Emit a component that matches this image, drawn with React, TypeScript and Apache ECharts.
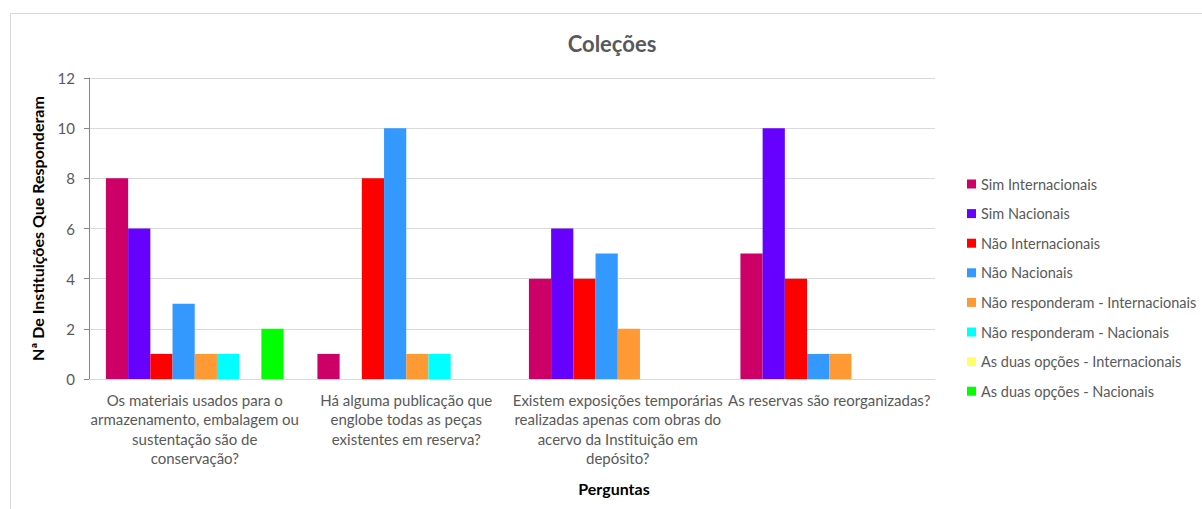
import React, { useEffect, useRef } from "react";
import * as echarts from "echarts";

const categories = [
  "Os materiais usados para o\narmazenamento, embalagem ou\nsustentação são de\nconservação?",
  "Há alguma publicação que\nenglobe todas as peças\nexistentes em reserva?",
  "Existem exposições temporárias\nrealizadas apenas com obras do\nacervo da Instituição em\ndepósito?",
  "As reservas são reorganizadas?",
];

const seriesNames = [
  "Sim Internacionais",
  "Sim Nacionais",
  "Não Internacionais",
  "Não Nacionais",
  "Não responderam - Internacionais",
  "Não responderam - Nacionais",
  "As duas opções - Internacionais",
  "As duas opções - Nacionais",
];

const seriesColors = [
  "#CC0066",
  "#6600FF",
  "#FF0000",
  "#3399FF",
  "#FF9933",
  "#00FFFF",
  "#FFFF66",
  "#00FF00",
];

const simInternacionais = [8, 1, 4, 5];
const simNacionais = [6, 0, 6, 10];
const naoInternacionais = [1, 8, 4, 4];
const naoNacionais = [3, 10, 5, 1];
const nrInternacionais = [1, 1, 2, 1];
const nrNacionais = [1, 1, 0, 0];
const duasInternacionais = [0, 0, 0, 0];
const duasNacionais = [2, 0, 0, 0];

const seriesValues = [
  simInternacionais,
  simNacionais,
  naoInternacionais,
  naoNacionais,
  nrInternacionais,
  nrNacionais,
  duasInternacionais,
  duasNacionais,
];

const yTicks = { min: 0, max: 12, interval: 2 };

const FONT = "Lato, 'Open Sans', sans-serif";

export default function App() {
  const ref = useRef<HTMLDivElement>(null);

  useEffect(() => {
    if (!ref.current) return;
    const chart = echarts.init(ref.current, null, { renderer: "svg" });
    chart.setOption({
      animation: false,
      backgroundColor: "#ffffff",
      textStyle: { fontFamily: FONT },
      graphic: [
        {
          type: "rect",
          shape: { x: 10.5, y: 13.5, width: 1300, height: 600 },
          style: { fill: "none", stroke: "#d9d9d9", lineWidth: 1 },
          silent: true,
        },
        {
          type: "text",
          x: 612,
          y: 43,
          style: {
            text: "Coleções",
            fontFamily: FONT,
            fontSize: 22,
            fontWeight: "bold",
            fill: "#595959",
            align: "center",
            verticalAlign: "middle",
          },
        },
        {
          type: "text",
          x: 614,
          y: 488,
          style: {
            text: "Perguntas",
            fontFamily: FONT,
            fontSize: 16,
            fontWeight: "bold",
            fill: "#000000",
            align: "center",
            verticalAlign: "middle",
          },
        },
      ],
      legend: {
        orient: "vertical",
        left: 962,
        top: 171,
        itemWidth: 9,
        itemHeight: 9,
        itemGap: 13.6,
        icon: "rect",
        textStyle: {
          fontFamily: FONT,
          fontSize: 14.5,
          color: "#595959",
          lineHeight: 16,
          padding: [0, 0, 0, 0],
        },
        data: seriesNames,
      },
      grid: { left: 89, top: 78, width: 846, height: 301 },
      xAxis: {
        type: "category",
        data: categories,
        axisLine: { show: true, lineStyle: { color: "#d9d9d9", width: 1 } },
        axisTick: { show: false },
        axisLabel: {
          interval: 0,
          margin: 11,
          color: "#595959",
          fontSize: 15,
          lineHeight: 19.5,
          fontFamily: FONT,
          align: "center",
        },
      },
      yAxis: {
        type: "value",
        min: yTicks.min,
        max: yTicks.max,
        interval: yTicks.interval,
        name: "Nª De Instituições Que Responderam",
        nameLocation: "middle",
        nameRotate: 90,
        nameGap: 44,
        nameTextStyle: {
          fontFamily: FONT,
          fontSize: 16,
          fontWeight: "bold",
          color: "#000000",
        },
        axisLine: { show: true, lineStyle: { color: "#868686", width: 1 } },
        axisTick: { show: true, inside: false, length: 5, lineStyle: { color: "#868686" } },
        axisLabel: { color: "#595959", fontSize: 15, margin: 14, fontFamily: FONT },
        splitLine: { show: true, lineStyle: { color: "#d9d9d9", width: 1 } },
      },
      series: seriesNames.map((name, i) => ({
        name,
        type: "bar",
        data: seriesValues[i],
        itemStyle: { color: seriesColors[i] },
        barGap: "0%",
        barCategoryGap: "16%",
      })),
    });
    return () => chart.dispose();
  }, []);

  return (
    <div
      ref={ref}
      style={{ position: "fixed", left: 0, top: 0, width: 1202, height: 509 }}
    />
  );
}
